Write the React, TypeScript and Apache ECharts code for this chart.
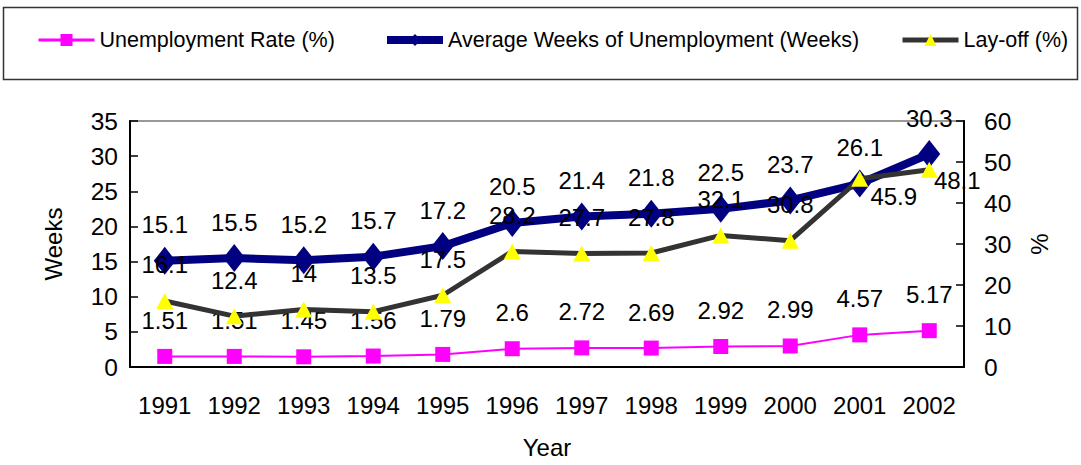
import React, { useEffect, useRef } from "react";
import * as echarts from "echarts";

const years = ["1991", "1992", "1993", "1994", "1995", "1996", "1997", "1998", "1999", "2000", "2001", "2002"];
const unemploymentRate = [1.51, 1.51, 1.45, 1.56, 1.79, 2.6, 2.72, 2.69, 2.92, 2.99, 4.57, 5.17];
const avgWeeks = [15.1, 15.5, 15.2, 15.7, 17.2, 20.5, 21.4, 21.8, 22.5, 23.7, 26.1, 30.3];
const layOff = [16.1, 12.4, 14, 13.5, 17.5, 28.2, 27.7, 27.8, 32.1, 30.8, 45.9, 48.1];

const seriesNames = ["Unemployment Rate (%)", "Average Weeks of Unemployment (Weeks)", "Lay-off (%)"];

const FONT = "'Liberation Sans', Arial, sans-serif";

export default function App() {
  const ref = useRef<HTMLDivElement>(null);
  useEffect(() => {
    if (!ref.current) return;
    const chart = echarts.init(ref.current, undefined, { renderer: "svg" });
    const baseLabel = {
      show: true,
      position: "inside" as const,
      offset: [0, -36],
      color: "#000",
      fontSize: 24,
      fontFamily: FONT,
    };
    const layOffData = layOff.map((v, i) => {
      if (i === 10) return { value: v, label: { offset: [34, 18] } };
      if (i === 11) return { value: v, label: { offset: [28, 11] } };
      return v;
    });
    const legendCommon = {
      top: 29,
      padding: 0,
      itemWidth: 56,
      itemHeight: 15,
      textStyle: { fontSize: 21.5, fontFamily: FONT, color: "#000" },
      selectedMode: false,
    };
    chart.setOption({
      animation: false,
      textStyle: { fontFamily: FONT },
      graphic: [
        {
          type: "rect",
          shape: { x: 3.5, y: 7.5, width: 1074, height: 72 },
          style: { fill: "none", stroke: "#333", lineWidth: 1.5 },
          z: -1,
        },
      ],
      legend: [
        { ...legendCommon, left: 37, data: [{ name: seriesNames[0], lineStyle: { width: 3 } }] },
        { ...legendCommon, left: 383, data: [{ name: seriesNames[1], lineStyle: { width: 8 } }] },
        { ...legendCommon, left: 900, data: [{ name: seriesNames[2], lineStyle: { width: 5 } }] },
      ],
      grid: {
        left: 130,
        right: 117,
        top: 121,
        bottom: 98,
        show: true,
        borderColor: "#999",
        borderWidth: 2,
      },
      xAxis: {
        type: "category",
        data: years,
        boundaryGap: true,
        name: "Year",
        nameLocation: "middle",
        nameGap: 68,
        nameTextStyle: { fontSize: 24, fontFamily: FONT, color: "#000" },
        axisLine: { lineStyle: { color: "#000", width: 2 } },
        axisTick: { inside: true, length: 8, lineStyle: { color: "#000", width: 1.5 } },
        axisLabel: { fontSize: 24, fontFamily: FONT, color: "#000", margin: 26 },
      },
      yAxis: [
        {
          type: "value",
          min: 0,
          max: 35,
          interval: 5,
          name: "Weeks",
          nameLocation: "middle",
          nameGap: 65,
          nameTextStyle: { fontSize: 24, fontFamily: FONT, color: "#000" },
          axisLine: { show: true, lineStyle: { color: "#000", width: 2 } },
          axisTick: { show: true, inside: true, length: 8, lineStyle: { color: "#000", width: 1.5 } },
          axisLabel: { fontSize: 24.5, fontFamily: FONT, color: "#000", margin: 12 },
          splitLine: { show: false },
        },
        {
          type: "value",
          min: 0,
          max: 60,
          interval: 10,
          name: "%",
          nameLocation: "middle",
          nameGap: 63,
          nameTextStyle: { fontSize: 24, fontFamily: FONT, color: "#000" },
          axisLine: { show: true, lineStyle: { color: "#000", width: 2 } },
          axisTick: { show: true, inside: true, length: 8, lineStyle: { color: "#000", width: 1.5 } },
          axisLabel: { fontSize: 24.5, fontFamily: FONT, color: "#000", margin: 20 },
          splitLine: { show: false },
        },
      ],
      series: [
        {
          name: seriesNames[0],
          type: "line",
          yAxisIndex: 0,
          data: unemploymentRate,
          symbol: "rect",
          symbolSize: 15,
          lineStyle: { color: "#FF00FF", width: 2 },
          itemStyle: { color: "#FF00FF" },
          label: baseLabel,
          z: 2,
        },
        {
          name: seriesNames[1],
          type: "line",
          yAxisIndex: 0,
          data: avgWeeks,
          symbol: "diamond",
          symbolSize: [22, 28],
          lineStyle: { color: "#000080", width: 8 },
          itemStyle: { color: "#000080" },
          label: baseLabel,
          z: 3,
        },
        {
          name: seriesNames[2],
          type: "line",
          yAxisIndex: 1,
          data: layOffData,
          symbol: "triangle",
          symbolSize: [17, 16],
          lineStyle: { color: "#333333", width: 5 },
          itemStyle: { color: "#FFFF00" },
          label: baseLabel,
          z: 4,
        },
      ],
    });
    return () => chart.dispose();
  }, []);
  return (
    <div
      ref={ref}
      style={{ position: "fixed", left: 0, top: 0, width: 1081, height: 465, background: "#fff" }}
    />
  );
}
